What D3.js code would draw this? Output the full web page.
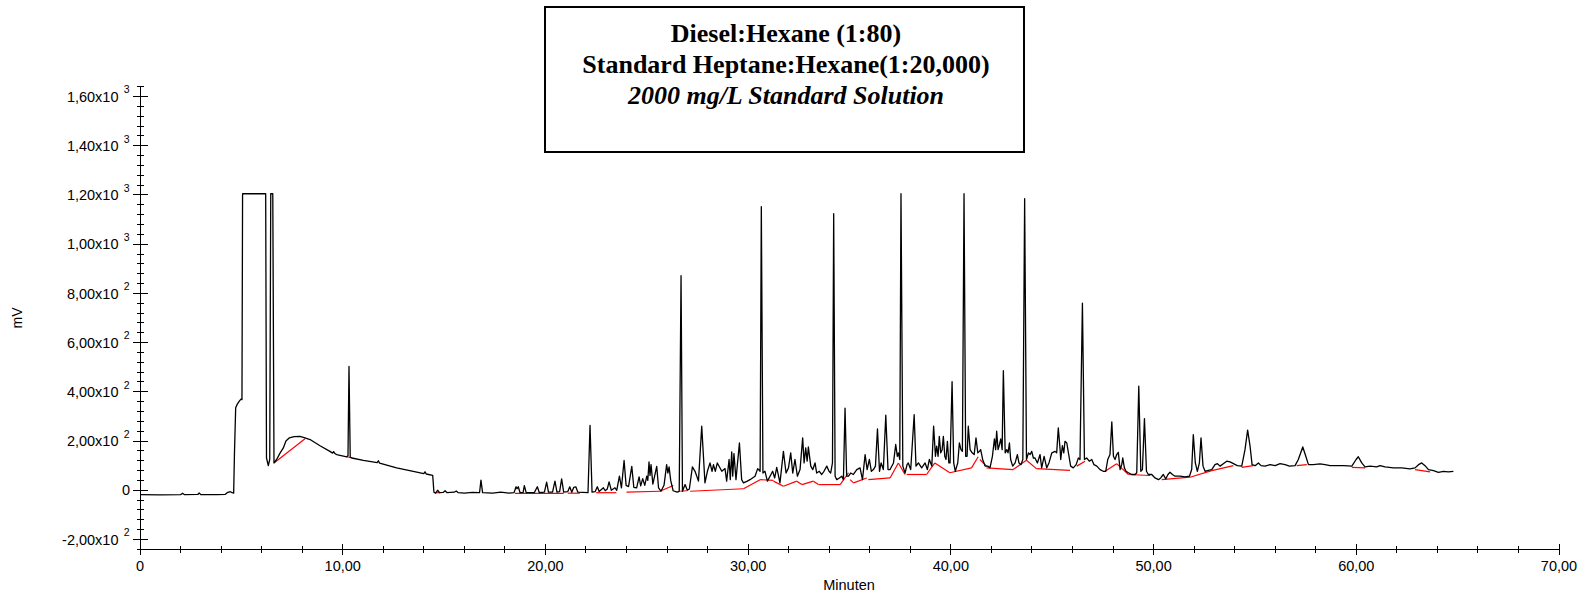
<!DOCTYPE html>
<html>
<head>
<meta charset="utf-8">
<script src="https://cdn.jsdelivr.net/npm/d3@7"></script>
<style>
  html, body { margin: 0; padding: 0; background: #fff; }
  svg { display: block; }
</style>
</head>
<body>
<svg id="chart" width="1582" height="598"></svg>
<script>
// ---------------- DATA ----------------
const titleLines = ["Diesel:Hexane (1:80)", "Standard Heptane:Hexane(1:20,000)", "2000 mg/L Standard Solution"];
const xLabel = "Minuten";
const yLabel = "mV";

const xMajorTicks = [0, 10, 20, 30, 40, 50, 60, 70];
const xTickLabels = ["0", "10,00", "20,00", "30,00", "40,00", "50,00", "60,00", "70,00"];
const yMajorTicks = [-200, 0, 200, 400, 600, 800, 1000, 1200, 1400, 1600];
const yTickMantissa = ["-2,00x10", "0", "2,00x10", "4,00x10", "6,00x10", "8,00x10", "1,00x10", "1,20x10", "1,40x10", "1,60x10"];
const yTickExponent = ["2", "", "2", "2", "2", "2", "3", "3", "3", "3"];

// chromatogram trace [minutes, mV]
const traceEarly = [
  [0,-18],[1.0,-19],[2.0,-18],[2.1,-12],[2.2,-18],[2.85,-17],[2.92,-11],[3.0,-18],[3.8,-18],[4.2,-17],
  [4.3,-10],[4.45,-6],[4.55,-10],[4.62,-12],[4.66,150],[4.72,335],[4.8,350],[4.9,362],[4.98,370],[5.03,368],
  [5.06,1205],[6.2,1205],[6.24,131],[6.33,100],[6.4,125],[6.45,1205],[6.55,1205],[6.61,111],[6.74,125],[6.9,150],
  [7.07,172],[7.2,200],[7.37,213],[7.6,218],[7.89,219],[8.1,214],[8.39,206],[8.88,181],[9.37,158],[9.5,151],
  [9.55,157],[9.62,149],[9.7,145],[10.2,136],[10.26,140],[10.31,503],[10.37,135],[10.45,131],[11.02,121],[11.7,112],
  [11.76,120],[11.82,110],[12.66,91],[13.48,77],[14.0,68],[14.06,75],[14.12,66],[14.44,60],[14.5,-8],[14.58,-12],
  [14.68,0],[14.78,-10],[14.95,-9],[15.05,-2],[15.15,-10],[15.5,-8],[15.6,-3],[15.7,-10],[16.0,-12],[16.4,-9],
  [16.75,-10],[16.82,41],[16.9,-10],[17.4,-12],[17.8,-8],[18.2,-12],[18.45,-10]
];
const traceMid1 = [
  [18.55,14],[18.6,6],[18.66,14],[18.75,-10],[18.9,-9],[18.96,19],[19.05,-10],[19.45,-10],[19.6,14],[19.7,-10],
  [19.95,-8],[20.06,33],[20.15,-8],[20.35,-8],[20.47,37],[20.57,-8],[20.7,-6],[20.8,46],[20.9,-8],[21.1,-6],
  [21.2,14],[21.3,-8],[21.4,12],[21.5,14],[21.6,-8],[22.1,-10],[22.2,264],[22.3,-8],[22.45,-6],[22.56,14],
  [22.65,-5],[22.86,10],[22.95,-2],[23.05,5],[23.14,34],[23.25,0],[23.43,10],[23.52,0],[23.65,57],[23.75,10],
  [23.88,121],[23.98,20],[24.1,15],[24.26,97],[24.36,12],[24.5,10],[24.62,54],[24.7,18],[24.8,47],[24.9,20],
  [25.0,57],[25.05,40],[25.11,115],[25.16,60],[25.21,104],[25.3,25],[25.49,97],[25.58,10],[25.7,-4],[25.85,20],
  [25.98,104],[26.04,70],[26.1,95],[26.18,40],[26.3,-2],[26.5,-8],[26.6,-5],[26.69,872],[26.76,-4],[26.89,23],
  [27.0,0],[27.1,5]
];
const traceMid2 = [
  [27.25,95],[27.38,77],[27.55,37],[27.71,260],[27.87,30],[27.99,77],[28.12,111],[28.22,77],[28.29,104],[28.38,77],
  [28.48,111],[28.7,77],[28.86,88],[28.94,37],[29.06,125],[29.12,43],[29.19,156],[29.24,57],[29.3,149],[29.4,43],
  [29.57,192],[29.68,43],[29.77,30],[29.96,37],[30.09,43],[30.34,57],[30.47,88],[30.59,77],[30.65,1153],[30.73,70],
  [30.83,77],[30.95,37],[31.08,57],[31.21,77],[31.31,50],[31.41,93],[31.57,30],[31.74,158],[31.87,70],[31.99,91],
  [32.1,152],[32.2,70],[32.31,125],[32.43,57],[32.56,84],[32.69,213],[32.76,111],[32.84,172],[32.91,118],[32.97,176],
  [33.09,98],[33.19,84],[33.3,111],[33.38,70],[33.51,77],[33.63,64],[33.74,77],[33.88,98],[33.99,77],[34.07,70],
  [34.16,111],[34.22,1124],[34.29,57],[34.37,43],[34.5,50],[34.62,57],[34.7,43],[34.78,334],[34.86,57],[34.95,57],
  [35.06,70],[35.19,64],[35.36,84],[35.52,91],[35.64,43],[35.77,145],[35.87,84],[35.98,125],[36.08,77],[36.18,84],
  [36.28,98],[36.38,249],[36.48,77],[36.56,111],[36.67,84],[36.79,305],[36.9,84],[37.0,84],[37.17,111],[37.28,186],
  [37.36,138],[37.41,152],[37.48,125],[37.54,1205],[37.63,98],[37.74,70],[37.84,104],[37.9,111],[38.02,84],[38.19,307],
  [38.28,98],[38.4,111],[38.56,91],[38.73,111],[38.84,84],[38.94,125],[39.06,98],[39.15,260],[39.24,138],[39.3,179],
  [39.37,138],[39.43,219],[39.5,152],[39.57,165],[39.63,219],[39.7,138],[39.76,125],[39.83,199],[39.9,111],[39.96,111],
  [40.06,441],[40.14,111],[40.22,77],[40.34,111],[40.42,192],[40.5,165],[40.57,158],[40.65,1205],[40.73,138],[40.8,138],
  [40.86,260],[40.95,165],[41.05,152],[41.15,145],[41.24,213],[41.33,152],[41.41,158],[41.47,165],[41.57,125],[41.69,98],
  [41.82,98],[41.93,91],[42.05,138],[42.15,209],[42.21,165],[42.26,240],[42.33,165],[42.4,186],[42.46,209],[42.53,165],
  [42.59,486],[42.68,152],[42.76,165],[42.82,152],[42.89,192],[42.95,125],[43.05,98],[43.17,111],[43.28,145],[43.36,111],
  [43.46,104],[43.55,125],[43.64,1185],[43.73,125],[43.83,152],[43.91,145],[43.99,158],[44.07,131],[44.15,131],[44.27,111]
];
const traceLate = [
  [44.4,145],[44.48,91],[44.6,138],[44.73,91],[44.84,111],[44.98,152],[45.14,158],[45.22,152],[45.3,253],[45.39,165],
  [45.42,125],[45.5,181],[45.57,152],[45.63,199],[45.72,192],[45.8,152],[45.91,98],[46.04,91],[46.18,104],[46.29,131],
  [46.37,125],[46.49,760],[46.59,125],[46.7,131],[46.83,118],[46.95,125],[47.06,104],[47.2,98],[47.36,84],[47.52,77],
  [47.64,77],[47.74,125],[47.85,145],[47.94,278],[48.02,138],[48.1,125],[48.18,145],[48.26,154],[48.35,84],[48.43,104],
  [48.48,131],[48.56,91],[48.64,77],[48.76,71],[48.92,64],[49.09,64],[49.17,71],[49.27,423],[49.37,77],[49.45,84],
  [49.55,291],[49.65,77],[49.74,64],[49.91,64],[50.07,50],[50.24,43],[50.35,50],[50.48,64],[50.6,46],[50.71,64],
  [50.81,73],[50.93,64],[51.06,57],[51.31,57],[51.55,54],[51.77,57],[51.88,84],[51.96,226],[52.06,111],[52.16,77],
  [52.26,111],[52.34,213],[52.44,98],[52.54,77],[52.7,81],[52.87,84],[53.03,104],[53.15,108],[53.28,98],[53.44,108],
  [53.61,118],[53.77,115],[53.94,108],[54.13,100],[54.35,98],[54.51,165],[54.64,244],[54.76,179],[54.86,104],[55.01,100],
  [55.17,111],[55.3,100],[55.5,98],[55.75,104],[56.0,100],[56.24,108],[56.49,104],[56.7,98],[56.98,100],[57.14,125],
  [57.36,176],[57.51,138],[57.64,104],[57.88,104],[58.21,107],[58.46,104],[58.71,100],[59.04,100],[59.37,100],[59.78,98],
  [59.99,125],[60.1,136],[60.27,111],[60.43,95],[60.68,98],[61.01,95],[61.17,100],[61.42,95],[61.83,91],[62.24,91],
  [62.65,87],[62.9,91],[63.07,104],[63.23,111],[63.39,100],[63.56,84],[63.81,80],[64.05,73],[64.3,77],[64.54,75],
  [64.79,77]
];

// integration baseline segments [t1, v1, t2, v2] (red)
const baselineSegments = [
  [6.61,111,8.14,209],[10.2,136,10.45,131],[14.58,-10,14.8,-10],
  [18.5,-13,20.9,-13],[21.1,-12,21.7,-12],[22.5,-10,23.5,-10],[24.0,-8,25.65,-4],[25.65,-4,26.31,19],
  [26.65,-4,26.97,-2],[27.14,-4,29.77,6],[29.77,6,30.59,43],[30.59,43,31.25,40],[31.25,37,31.74,16],
  [31.74,16,32.4,37],[32.4,37,32.65,23],[32.65,23,33.22,37],[33.22,37,33.47,23],[33.47,23,34.54,23],
  [34.54,23,34.95,71],[35.03,43,35.2,30],[35.2,30,35.85,50],[35.93,43,37.0,50],[37.0,50,37.41,111],
  [37.41,111,37.74,64],[37.82,64,38.8,64],[38.8,64,39.21,111],[39.21,111,39.95,71],[39.95,71,41.02,91],
  [41.02,91,41.35,136],[41.43,125,41.76,98],[41.76,91,43.07,84],[43.07,84,43.73,122],[43.73,122,44.22,88],
  [44.22,88,45.88,81],[46.21,98,46.62,118],[47.61,77,48.18,108],[48.18,108,48.76,64],[48.76,64,49.83,60],
  [50.4,43,51.8,53],[51.8,53,52.87,80],[52.87,80,53.94,100],[54.35,93,54.92,100],[57.06,100,57.56,104],
  [59.78,93,60.43,91],[62.9,84,63.64,75]
];

// ---------------- CHART ----------------
const svg = d3.select("#chart");
const x = d3.scaleLinear().domain([0, 70]).range([140, 1559]);
const y = d3.scaleLinear().domain([-240, 1640]).range([549.3, 86.7]);
const axisFont = "'Liberation Sans', Arial, sans-serif";

// Title box
const box = svg.append("g");
box.append("rect").attr("x", 545).attr("y", 7).attr("width", 479).attr("height", 145)
  .attr("fill", "none").attr("stroke", "#000").attr("stroke-width", 2);
const titleStyles = [
  {w: "bold", s: "normal", y: 42.3},
  {w: "bold", s: "normal", y: 73.3},
  {w: "bold", s: "italic", y: 104}
];
titleLines.forEach((t, i) => {
  box.append("text").attr("x", 786).attr("y", titleStyles[i].y)
    .attr("text-anchor", "middle")
    .attr("font-family", "'Liberation Serif', 'Times New Roman', serif")
    .attr("font-size", 26).attr("font-weight", titleStyles[i].w).attr("font-style", titleStyles[i].s)
    .attr("fill", "#000").text(t);
});

// Axes
const ax = svg.append("g").attr("stroke", "#000").attr("stroke-width", 1).attr("shape-rendering", "crispEdges");
ax.append("line").attr("x1", x(0)).attr("x2", x(0)).attr("y1", y(1640)).attr("y2", y(-240));
ax.append("line").attr("x1", x(0)).attr("x2", x(70)).attr("y1", y(-240)).attr("y2", y(-240));

const yMinor = d3.range(-240, 1641, 40).filter(v => yMajorTicks.indexOf(v) < 0);
ax.selectAll(".ymin").data(yMinor).enter().append("line")
  .attr("x1", x(0) - 3.5).attr("x2", x(0) + 4).attr("y1", d => y(d)).attr("y2", d => y(d));
ax.selectAll(".ymaj").data(yMajorTicks).enter().append("line")
  .attr("x1", x(0) - 7).attr("x2", x(0) + 8).attr("y1", d => y(d)).attr("y2", d => y(d));

const xMinor = d3.range(0, 71, 2).filter(v => xMajorTicks.indexOf(v) < 0);
ax.selectAll(".xmin").data(xMinor).enter().append("line")
  .attr("x1", d => x(d)).attr("x2", d => x(d)).attr("y1", y(-240) - 3).attr("y2", y(-240) + 3.5);
ax.selectAll(".xmaj").data(xMajorTicks).enter().append("line")
  .attr("x1", d => x(d)).attr("x2", d => x(d)).attr("y1", y(-240) - 5).attr("y2", y(-240) + 5.5);

// Tick labels
const lab = svg.append("g").attr("font-family", axisFont).attr("fill", "#000");
xMajorTicks.forEach((v, i) => {
  lab.append("text").attr("x", x(v)).attr("y", 570.5).attr("text-anchor", "middle")
    .attr("font-size", 14.5).text(xTickLabels[i]);
});
yMajorTicks.forEach((v, i) => {
  const yy = y(v);
  if (yTickExponent[i]) {
    lab.append("text").attr("x", 118.5).attr("y", yy + 5.2).attr("text-anchor", "end")
      .attr("font-size", 14.5).text(yTickMantissa[i]);
    lab.append("text").attr("x", 129.5).attr("y", yy - 3.2).attr("text-anchor", "end")
      .attr("font-size", 10.5).text(yTickExponent[i]);
  } else {
    lab.append("text").attr("x", 130).attr("y", yy + 5.2).attr("text-anchor", "end")
      .attr("font-size", 14.5).text(yTickMantissa[i]);
  }
});
lab.append("text").attr("x", 849).attr("y", 590).attr("text-anchor", "middle")
  .attr("font-size", 14.5).text(xLabel);
lab.append("text").attr("transform", "translate(22,318) rotate(-90)").attr("text-anchor", "middle")
  .attr("font-size", 14).text(yLabel);

// Red baseline segments
svg.append("g").selectAll("line").data(baselineSegments).enter().append("line")
  .attr("x1", d => x(d[0])).attr("y1", d => y(d[1]))
  .attr("x2", d => x(d[2])).attr("y2", d => y(d[3]))
  .attr("stroke", "#ff0000").attr("stroke-width", 1.2);

// Trace
const trace = traceEarly.concat(traceMid1, traceMid2, traceLate);
const line = d3.line().x(d => x(d[0])).y(d => y(d[1]));
svg.append("path").datum(trace).attr("d", line)
  .attr("fill", "none").attr("stroke", "#000").attr("stroke-width", 1.3).attr("stroke-linejoin", "round");
</script>
</body>
</html>
